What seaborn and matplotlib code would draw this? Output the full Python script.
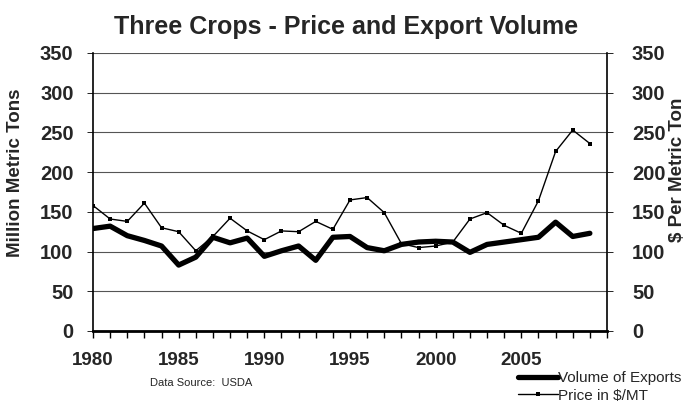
import matplotlib
matplotlib.use("Agg")
import matplotlib.pyplot as plt
import seaborn as sns
import pandas as pd
from matplotlib.lines import Line2D

years = list(range(1980, 2010))
volume = [129, 132, 120, 114, 107, 83, 93, 118, 111, 117,
          94, 101, 107, 89, 118, 119, 105, 101, 109, 112,
          113, 112, 99, 109, 112, 115, 118, 137, 119, 123]
price = [158, 141, 138, 161, 130, 125, 101, 119, 142, 126,
         115, 126, 125, 138, 128, 165, 168, 149, 110, 105,
         107, 112, 141, 149, 133, 123, 164, 226, 253, 236]
y_ticks = [0, 50, 100, 150, 200, 250, 300, 350]
x_major = [1980, 1985, 1990, 1995, 2000, 2005]

df = pd.DataFrame({"Year": years, "Volume": volume, "Price": price})

sns.set_style("white", {"xtick.bottom": True, "ytick.left": True})
plt.rcParams['font.family'] = ['Liberation Sans', 'DejaVu Sans']

fig = plt.figure(figsize=(6.88, 4.12), dpi=100)
ax = fig.add_axes([93/688, 1-331/412, (607-93)/688, (331-53)/412])
ax2 = ax.twinx()

sns.lineplot(data=df, x="Year", y="Volume", ax=ax, color="black", linewidth=3.8,
             zorder=3)
sns.lineplot(data=df, x="Year", y="Price", ax=ax2, color="black", linewidth=1.0,
             marker="s", markersize=2.5, markeredgewidth=0, zorder=3)

for a in (ax, ax2):
    a.set_ylim(0, 350)
    a.set_xlim(1980, 2010)
    a.set_yticks(y_ticks)
    a.set_xlabel("")
    a.set_ylabel("")

ax.yaxis.grid(True, color="#555555", linewidth=0.8)
ax.set_axisbelow(True)
ax.set_xticks(x_major)
ax.set_xticks(years + [2010], minor=True)
ax.xaxis.set_ticks_position("bottom")
ax.tick_params(axis="x", which="both", length=5, width=1.0, direction="out",
               bottom=True, color="black")
ax.tick_params(axis="x", which="major", pad=10, labelsize=13.5)
for lbl in ax.get_xticklabels():
    lbl.set_fontweight("bold")
ax.tick_params(axis="y", length=4, width=0.6, direction="out", pad=10, labelsize=14.5,
               left=True, color="black")
ax2.tick_params(axis="y", length=4, width=0.6, direction="out", pad=14, labelsize=14.5,
                right=True, color="black")
for lbl in ax.get_yticklabels() + ax2.get_yticklabels():
    lbl.set_fontweight("bold")

for a in (ax, ax2):
    for s in a.spines.values():
        s.set_color("black")
    a.spines["top"].set_visible(False)
ax.spines["bottom"].set_linewidth(2.0)
ax.spines["left"].set_linewidth(1.2)
ax2.spines["right"].set_linewidth(1.2)
ax.spines["right"].set_visible(False)
ax2.spines["left"].set_visible(False)
ax2.spines["bottom"].set_visible(False)

fig.text(16/688, 1-173/412, "Million Metric Tons", rotation=90, ha="center", va="center",
         fontsize=13.5, fontweight="bold")
fig.text(677/688, 1-170/412, "$ Per Metric Ton", rotation=90, ha="center", va="center",
         fontsize=13.5, fontweight="bold")

fig.text(346/688, 1-27/412, "Three Crops - Price and Export Volume", ha="center", va="center",
         fontsize=18, fontweight="bold")
fig.text(150/688, 1-383/412, "Data Source:  USDA", ha="left", va="center", fontsize=8)

handles = [Line2D([0], [0], color="black", linewidth=3.8),
           Line2D([0], [0], color="black", linewidth=1.0, marker="s", markersize=2.5,
                  markeredgewidth=0)]
leg = fig.legend(handles, ["Volume of Exports", "Price in $/MT"], loc="upper left",
                 bbox_to_anchor=(518/688, 1-371/412), frameon=False, fontsize=11,
                 handlelength=2.6, handletextpad=0.0, labelspacing=0.25,
                 borderaxespad=0, borderpad=0)
if ax2.get_legend():
    ax2.get_legend().remove()

fig.savefig("out.png", dpi=100)
